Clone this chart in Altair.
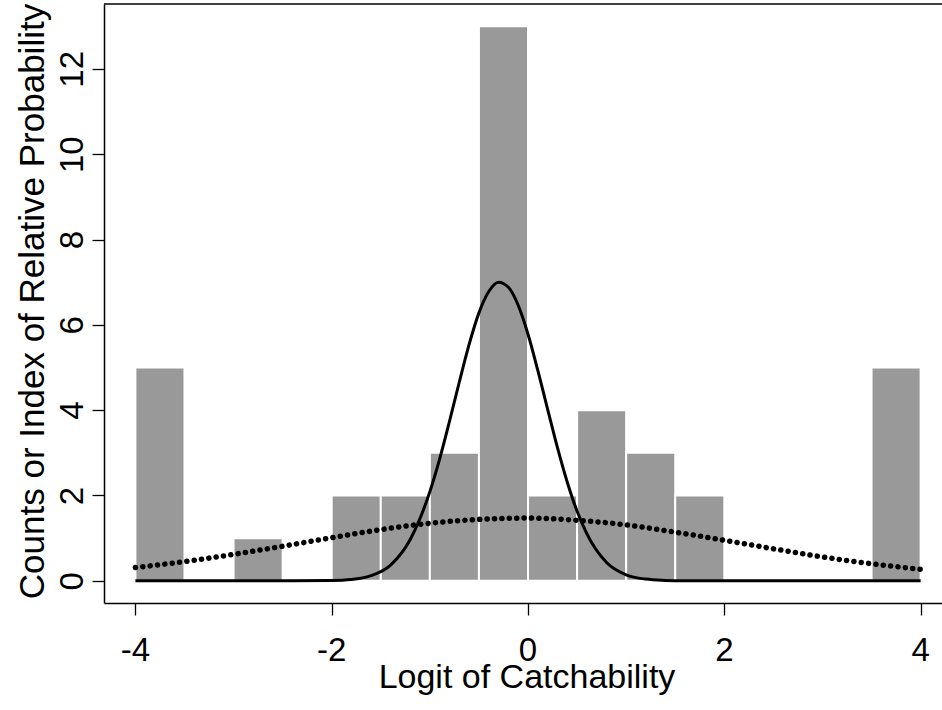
import altair as alt
import pandas as pd

# Histogram: bin edges (width 0.5) and counts per bin
bin_starts = [-4.0, -3.5, -3.0, -2.5, -2.0, -1.5, -1.0, -0.5, 0.0, 0.5, 1.0, 1.5, 2.0, 2.5, 3.0, 3.5]
bin_counts = [5, 0, 1, 0, 2, 2, 3, 13, 2, 4, 3, 2, 0, 0, 0, 5]
bin_width = 0.5

# Narrow relative-probability curve (solid)
solid_x = [-4.0, -3.0, -2.4, -2.0, -1.8, -1.6, -1.4, -1.2, -1.0, -0.9, -0.8, -0.7, -0.6, -0.5,
           -0.4, -0.3, -0.2, -0.1, 0.0, 0.1, 0.2, 0.3, 0.4, 0.5, 0.6, 0.8, 1.0, 1.2, 1.4, 1.6,
           2.0, 3.0, 4.0]
solid_y = [0.0, 0.0, 0.0, 0.007, 0.03, 0.12, 0.37, 0.97, 2.09, 2.86, 3.74, 4.66, 5.54, 6.28,
           6.78, 7.0, 6.88, 6.46, 5.78, 4.93, 4.02, 3.12, 2.31, 1.63, 1.10, 0.43, 0.14, 0.04,
           0.01, 0.0, 0.0, 0.0, 0.0]

# Broad relative-probability curve (dotted)
dotted_x = [-4.0, -3.5, -3.0, -2.5, -2.0, -1.5, -1.0, -0.5, 0.0, 0.5, 1.0, 1.5, 2.0, 2.5, 3.0, 3.5, 4.0]
dotted_y = [0.31, 0.45, 0.62, 0.81, 1.01, 1.20, 1.35, 1.44, 1.47, 1.42, 1.31, 1.14, 0.95, 0.75, 0.56, 0.40, 0.27]

x_ticks = [-4, -2, 0, 2, 4]
x_tick_labels = ["-4", "-2", "0", "2", "4"]
y_ticks = [0, 2, 4, 6, 8, 10, 12]

FONT = "Liberation Sans"
PLOT_W, PLOT_H = 838, 599
X_TITLE = "Logit of Catchability"

bars_df = pd.DataFrame({
    "start": bin_starts,
    "end": [s + bin_width for s in bin_starts],
    "count": bin_counts,
})
bars_df = bars_df[bars_df["count"] > 0]
solid_df = pd.DataFrame({"x": solid_x, "y": solid_y})
dotted_df = pd.DataFrame({"x": dotted_x, "y": dotted_y})
xlab_df = pd.DataFrame({"x": x_ticks, "label": x_tick_labels})

x_scale = alt.Scale(domain=[-4.32, 4.2178], nice=False, zero=False)
y_scale = alt.Scale(domain=[-0.52, 13.52], nice=False, zero=False)

# x tick labels and x title are drawn by text layers below the axis
x_axis = alt.Axis(
    values=x_ticks, title=None, grid=False, labels=False,
    domain=True, domainColor="black", domainWidth=1.5,
    tickColor="black", tickWidth=1.3, tickSize=12,
)
y_axis = alt.Axis(
    values=y_ticks, title="Counts or Index of Relative Probability", grid=False,
    labelExpr="'' + datum.value",
    labelOverlap=False, labelFlush=False, labelBound=False,
    domain=True, domainColor="black", domainWidth=1.5,
    tickColor="black", tickWidth=1.3, tickSize=12,
    labelFont=FONT, labelFontSize=33, labelColor="black",
    labelAngle=270, labelAlign="center", labelBaseline="alphabetic", labelPadding=10,
    titleFont=FONT, titleFontSize=35, titleFontWeight="normal", titleColor="black",
    titleAngle=270, titleBaseline="alphabetic", titleAlign="center",
    titleX=-61, titleY=297,
)

bars = alt.Chart(bars_df).mark_rect(color="#999999", stroke="white", strokeWidth=2).encode(
    x=alt.X("start:Q", scale=x_scale, axis=x_axis),
    x2="end:Q",
    y=alt.Y("count:Q", scale=y_scale, axis=y_axis),
    y2=alt.datum(0),
)

solid = alt.Chart(solid_df).mark_line(
    color="black", strokeWidth=3, interpolate="monotone"
).encode(
    x=alt.X("x:Q", scale=x_scale, axis=x_axis),
    y=alt.Y("y:Q", scale=y_scale, axis=y_axis),
)

dotted = alt.Chart(dotted_df).mark_line(
    color="black", strokeWidth=5.5, strokeCap="round", strokeDash=[0.1, 7.3],
    interpolate="monotone",
).encode(
    x=alt.X("x:Q", scale=x_scale, axis=x_axis),
    y=alt.Y("y:Q", scale=y_scale, axis=y_axis),
)

x_labels = alt.Chart(xlab_df).mark_text(
    font=FONT, fontSize=33, color="black", baseline="alphabetic", align="center"
).encode(
    x=alt.X("x:Q", scale=x_scale, axis=x_axis),
    y=alt.value(PLOT_H + 58),
    text="label:N",
)

x_title = alt.Chart(pd.DataFrame({"t": [X_TITLE]})).mark_text(
    font=FONT, fontSize=34, color="black", baseline="alphabetic", align="center"
).encode(
    x=alt.value(423), y=alt.value(PLOT_H + 85), text="t:N",
)

# upper frame line of the plot box
top_line = alt.Chart(pd.DataFrame({"k": [0]})).mark_rule(color="black", strokeWidth=1.5).encode(
    x=alt.value(0), x2=alt.value(PLOT_W), y=alt.value(0)
)

chart = alt.layer(bars, solid, dotted, x_labels, x_title, top_line).properties(
    width=PLOT_W, height=PLOT_H,
    padding={"left": 104, "top": 4, "right": 0, "bottom": 107},
    autosize=alt.AutoSizeParams(type="none"),
    background="white",
).configure_view(stroke=None)

chart.save("out.html", embed_options={"renderer": "svg", "actions": False})
